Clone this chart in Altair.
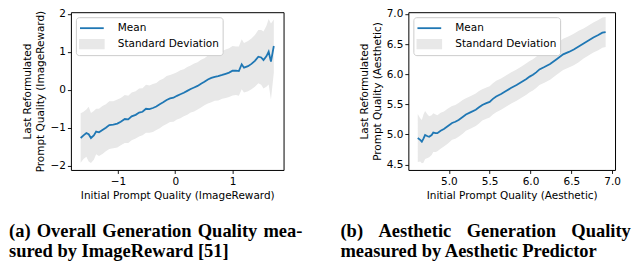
import altair as alt
import pandas as pd

# ---------------- data ----------------
ir_x = [-1.65, -1.60, -1.55, -1.51, -1.47, -1.42, -1.38, -1.33, -1.27, -1.21,
        -1.15, -1.08, -1.01, -0.95, -0.88, -0.82, -0.76, -0.69, -0.63, -0.57,
        -0.51, -0.45, -0.39, -0.33, -0.27, -0.21, -0.15, -0.09, -0.03, 0.03,
        0.09, 0.15, 0.21, 0.27, 0.33, 0.39, 0.45, 0.51, 0.57, 0.63,
        0.69, 0.75, 0.82, 0.88, 0.94, 1.00, 1.06, 1.11, 1.16, 1.20,
        1.27, 1.33, 1.39, 1.45, 1.50, 1.54, 1.59, 1.63, 1.67, 1.72]
ir_mean = [-1.27, -1.20, -1.14, -1.17, -1.27, -1.20, -1.10, -1.12, -1.06, -1.00,
           -0.93, -0.92, -0.89, -0.84, -0.77, -0.78, -0.70, -0.66, -0.60, -0.58,
           -0.50, -0.51, -0.48, -0.44, -0.38, -0.33, -0.27, -0.23, -0.21, -0.16,
           -0.12, -0.08, -0.03, 0.02, 0.06, 0.10, 0.16, 0.21, 0.27, 0.31,
           0.34, 0.36, 0.39, 0.42, 0.45, 0.50, 0.50, 0.49, 0.67, 0.58,
           0.62, 0.68, 0.76, 0.87, 0.85, 0.78, 0.88, 1.00, 0.74, 1.15]
ir_sd = [0.65, 0.62, 0.62, 0.72, 0.66, 0.64, 0.60, 0.62, 0.63, 0.62,
         0.63, 0.62, 0.63, 0.62, 0.63, 0.62, 0.63, 0.62, 0.63, 0.62,
         0.63, 0.62, 0.63, 0.62, 0.63, 0.62, 0.63, 0.62, 0.63, 0.62,
         0.63, 0.62, 0.63, 0.62, 0.63, 0.62, 0.63, 0.62, 0.63, 0.64,
         0.63, 0.64, 0.63, 0.64, 0.64, 0.65, 0.64, 0.65, 0.66, 0.65,
         0.66, 0.67, 0.68, 0.70, 0.72, 0.75, 0.80, 0.86, 1.00, 0.70]

ae_x = [4.62, 4.65, 4.67, 4.69, 4.71, 4.74, 4.76, 4.79, 4.81, 4.84,
        4.86, 4.90, 4.94, 4.99, 5.04, 5.08, 5.12, 5.17, 5.21, 5.27,
        5.33, 5.37, 5.41, 5.46, 5.50, 5.54, 5.58, 5.64, 5.70, 5.76,
        5.83, 5.89, 5.95, 5.99, 6.03, 6.07, 6.11, 6.17, 6.24, 6.32,
        6.40, 6.47, 6.53, 6.59, 6.65, 6.71, 6.77, 6.83, 6.88, 6.92]
ae_mean = [4.94, 4.91, 4.88, 4.93, 4.99, 4.97, 4.96, 4.99, 5.03, 5.02,
           5.02, 5.06, 5.09, 5.14, 5.19, 5.21, 5.24, 5.29, 5.33, 5.37,
           5.41, 5.45, 5.49, 5.52, 5.54, 5.59, 5.63, 5.67, 5.72, 5.77,
           5.82, 5.87, 5.92, 5.96, 5.99, 6.03, 6.08, 6.12, 6.17, 6.25,
           6.33, 6.37, 6.41, 6.46, 6.51, 6.56, 6.61, 6.65, 6.69, 6.70]
ae_sd = [0.40, 0.36, 0.36, 0.40, 0.40, 0.36, 0.34, 0.33, 0.32, 0.31,
         0.30, 0.30, 0.29, 0.29, 0.28, 0.28, 0.28, 0.28, 0.27, 0.27,
         0.27, 0.27, 0.26, 0.26, 0.26, 0.26, 0.26, 0.26, 0.26, 0.26,
         0.26, 0.26, 0.26, 0.26, 0.26, 0.26, 0.26, 0.26, 0.26, 0.26,
         0.26, 0.26, 0.26, 0.26, 0.25, 0.25, 0.25, 0.25, 0.25, 0.25]

series_names = ["Mean", "Standard Deviation"]
series_colors = ["#1f77b4", "#e8e8e8"]

ir_xticks = [-1, 0, 1]
ir_yticks = [-2, -1, 0, 1, 2]
ae_xticks = [5.0, 5.5, 6.0, 6.5, 7.0]
ae_yticks = [4.5, 5.0, 5.5, 6.0, 6.5, 7.0]

GAP_A = " \u200a"
GAP_B = "\u00a0\u00a0\u00a0\u200a"
caption_a = [GAP_A.join(["(a)", "Overall", "Generation", "Quality", "mea-"]),
             "sured by ImageReward [51]"]
caption_b = [GAP_B.join(["(b)", "Aesthetic", "Generation", "Quality"]),
             "measured by Aesthetic Predictor"]

FONT = "DejaVu Sans"
FS = 10.5
PLOT_H = 158


def panel(xs, mean, sd, xdom, ydom, xticks, yticks, fmt, xtitle, ytitle,
          caption, cap_dx, width):
    df = pd.DataFrame({"x": xs, "mean": mean, "sd": sd})
    df["lo"] = df["mean"] - df["sd"]
    df["hi"] = df["mean"] + df["sd"]

    ax_common = dict(grid=False, domain=False, tickSize=3.5, tickColor="black",
                     tickWidth=0.9, labelFont=FONT, labelFontSize=FS,
                     labelColor="black", titleFont=FONT, titleFontSize=FS,
                     titleFontWeight="normal", titleColor="black")
    xaxis = alt.Axis(values=xticks, format=fmt, title=xtitle, titlePadding=4,
                     labelPadding=3, **ax_common)
    yaxis = alt.Axis(values=yticks, format=fmt, title=ytitle, titlePadding=4,
                     labelPadding=2, titleLineHeight=13, **ax_common)
    xs_ = alt.Scale(domain=xdom, nice=False, zero=False)
    ys_ = alt.Scale(domain=ydom, nice=False, zero=False)

    cscale = alt.Scale(domain=series_names, range=series_colors)
    legend = alt.Legend(
        title=None, orient="top-left", offset=5, fillColor="white",
        strokeColor="#cccccc", cornerRadius=3, padding=3, rowPadding=2,
        labelFont=FONT, labelFontSize=FS, labelColor="black",
        symbolSize=196, symbolOffset=5, labelOffset=18,
        symbolType={"expr": "datum.value === 'Mean' ? 'M-1.7,0H1.7' : 'M-1.7,-0.6H1.7V0.6H-1.7Z'"},
        symbolFillColor={"expr": "datum.value === 'Mean' ? 'transparent' : '#e8e8e8'"},
        symbolStrokeColor={"expr": "datum.value === 'Mean' ? '#1f77b4' : 'transparent'"},
        symbolStrokeWidth=1.8, symbolOpacity=1)

    base = alt.Chart(df)
    area = base.transform_calculate(series="'Standard Deviation'").mark_area(
        opacity=1, clip=True).encode(
        x=alt.X("x:Q", scale=xs_, axis=xaxis),
        y=alt.Y("lo:Q", scale=ys_, axis=yaxis),
        y2="hi:Q",
        color=alt.Color("series:N", scale=cscale, legend=legend))
    line = base.transform_calculate(series="'Mean'").mark_line(
        strokeWidth=1.8, clip=True).encode(
        x=alt.X("x:Q", scale=xs_, axis=xaxis),
        y=alt.Y("mean:Q", scale=ys_, axis=yaxis),
        color=alt.Color("series:N", scale=cscale, legend=legend))

    return alt.layer(area, line).properties(
        width=width, height=PLOT_H,
        title=alt.TitleParams(
            text=caption, orient="bottom", anchor="start", frame="group",
            dx=cap_dx, offset=21, font="Liberation Serif", fontSize=18.5,
            fontWeight="bold", color="black", lineHeight=20, baseline="top"))


left = panel(ir_x, ir_mean, ir_sd, [-1.82, 1.89], [-2.11, 2.04],
             ir_xticks, ir_yticks, "d",
             "Initial Prompt Quality (ImageReward)",
             ["Last Reformulated", "Prompt Quality (ImageReward)"],
             caption_a, -62, 213)
right = panel(ae_x, ae_mean, ae_sd, [4.505, 7.035], [4.41, 7.03],
              ae_xticks, ae_yticks, ".1f",
              "Initial Prompt Quality (Aesthetic)",
              ["Last Reformulated", "Prompt Quality (Aesthetic)"],
              caption_b, -68, 207)

chart = alt.hconcat(left, right, spacing=125, bounds="flush").resolve_scale(
    x="independent", y="independent", color="independent"
).resolve_legend(color="independent").properties(
    padding={"left": 0, "top": 0, "right": 0, "bottom": 0}
).configure_view(stroke="black", strokeWidth=1)

chart.save("out.html", embed_options={"renderer": "svg", "actions": False})
